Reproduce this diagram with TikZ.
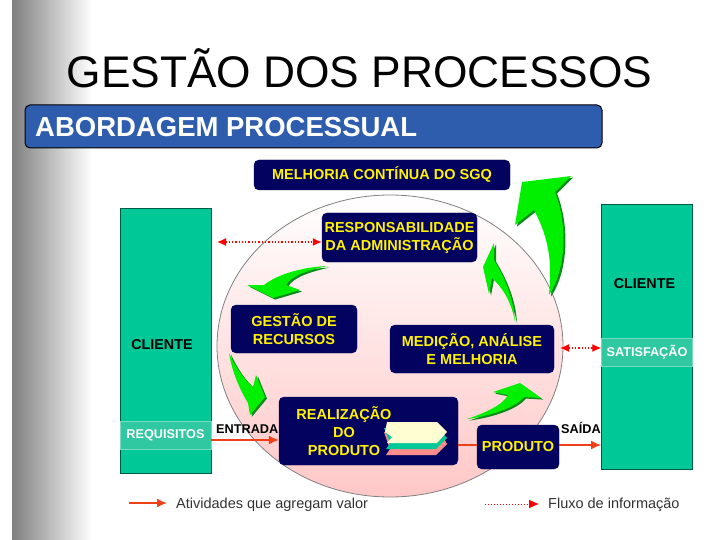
\documentclass[tikz,border=0pt]{standalone}
\usepackage{fontspec}
\setmainfont{Liberation Sans}
\usepackage{tikz}
\usetikzlibrary{arrows.meta}
\definecolor{navybox}{HTML}{03035F}
\definecolor{tealbox}{HTML}{00C896}
\definecolor{tealband}{HTML}{2FC8A0}
\definecolor{barblue}{HTML}{2F5DAE}
\definecolor{lime}{HTML}{00F000}
\definecolor{limedark}{HTML}{0B8A1E}
\definecolor{flowred}{HTML}{F0401A}
\tikzset{
  stepbox/.style={draw=navybox,fill=navybox,rounded corners=5pt,inner sep=0pt,
    text=yellow,font=\fontsize{14.5}{18}\selectfont\bfseries,align=center},
  clientbox/.style={draw=black!55!tealbox,fill=tealbox,line width=0.8pt,inner sep=0pt},
  clientlabel/.style={font=\fontsize{14.3}{16}\selectfont\bfseries,inner sep=0pt},
  bandbox/.style={draw=white!35!tealband,fill=tealband,line width=0.4pt,inner sep=0pt,
    text=white,font=\fontsize{12.7}{15}\selectfont\bfseries},
  infoflow/.style={red,line width=1.3pt,dotted,{Latex[length=9pt,width=8pt]}-{Latex[length=9pt,width=8pt]}},
  valueflow/.style={flowred,line width=1.6pt,-{Latex[length=10pt,width=9pt]}},
  greenarrow/.style={fill=lime,preaction={fill=limedark,transform canvas={shift={(2pt,-1.6pt)}}}},
  blacklabel/.style={font=\fontsize{12.7}{15}\selectfont\bfseries,inner sep=0pt},
  legendlabel/.style={font=\fontsize{14.5}{16}\selectfont,text=black!80,inner sep=0pt,anchor=west}
}
\begin{document}
\begin{tikzpicture}[x=1pt,y=-1pt]
  \useasboundingbox (0,0) rectangle (720,540);
  % page edge and title
  \fill[white] (0,0) rectangle (720,540);
  \shade[left color=black!50,right color=white] (12,0) rectangle (92,540);
  \node[font=\fontsize{44.3}{50}\selectfont,inner sep=0pt] (title) at (359.5,68) {GESTÃO DOS PROCESSOS};
  \node[draw=black,fill=barblue,line width=1pt,rounded corners=5pt,minimum width=577pt,minimum height=43pt,inner sep=0pt] (bar) at (313.5,126.5) {};
  \node[font=\fontsize{27.5}{30}\selectfont\bfseries,text=white,inner sep=0pt,anchor=west] (barlabel) at (35,127) {ABORDAGEM PROCESSUAL};
  % image panel
  \fill[white] (115,152) rectangle (700,525);
  % process circle
  \shade[top color=white,bottom color=red!22,draw=none] (390,346) ellipse (173pt and 151pt);
  \draw[black!50,line width=0.8pt] (390,346) ellipse (173pt and 151pt);
  % customers
  \node[clientbox,minimum width=91pt,minimum height=265pt] (clienteL) at (165.5,340.5) {};
  \node[clientbox,minimum width=91pt,minimum height=265pt] (clienteR) at (647,336.5) {};
  \node[clientlabel] (clienteLlabel) at (162,345) {CLIENTE};
  \node[clientlabel] (clienteRlabel) at (644.5,284) {CLIENTE};
  \node[bandbox,minimum width=91pt,minimum height=28pt] (requisitos) at (165.5,435) {REQUISITOS};
  \node[bandbox,minimum width=91pt,minimum height=28pt] (satisfacao) at (647,352) {SATISFAÇÃO};
  % process steps
  \node[stepbox,minimum width=256pt,minimum height=30pt] (melhoria) at (382,175) {MELHORIA CONTÍNUA DO SGQ};
  \node[stepbox,minimum width=155pt,minimum height=49pt] (responsabilidade) at (399.5,237.5) {RESPONSABILIDADE\\DA ADMINISTRAÇÃO};
  \node[stepbox,minimum width=126pt,minimum height=48pt] (recursos) at (294,329) {GESTÃO DE\\RECURSOS};
  \node[stepbox,minimum width=164pt,minimum height=48pt] (medicao) at (472,349) {MEDIÇÃO, ANÁLISE\\E MELHORIA};
  \node[stepbox,minimum width=179pt,minimum height=68pt] (realizacao) at (368.5,431) {};
  \node[stepbox,minimum width=82pt,minimum height=44pt] (produto) at (518,447) {PRODUTO};
  % stacked sheets inside the product step
  \fill[red!45!white] (384,432) -- (440,432) -- (447,444) -- (436,455) -- (386,455) -- (390,449) -- cycle;
  \fill[tealbox] (384,428) -- (437,428) -- (447,438) -- (436,449) -- (386,449) -- (390,443) -- cycle;
  \fill[yellow!18!white] (387,422) -- (437,422) -- (447,432) -- (437,443) -- (387,443) -- (392,437) -- (385,432) -- cycle;
  \node[font=\fontsize{14.5}{18}\selectfont\bfseries,text=yellow,align=center,inner sep=0pt] (realizacaolabel) at (344,431) {REALIZAÇÃO\\DO\\PRODUTO};
  % green arrows
  \fill[greenarrow] (549,295) .. controls (566,270) and (568,225) .. (555,192) -- (571,176) -- (522,182)
    -- (515,225) -- (534,210) .. controls (550,240) and (552,265) .. (549,295) -- cycle;
  \fill[greenarrow] (515,322) .. controls (514,300) and (506,280) .. (494,260) -- (494,243) -- (483,267) -- (489,294)
    -- (492,278) .. controls (505,290) and (512,305) .. (515,322) -- cycle;
  \fill[greenarrow] (327,266) .. controls (290,268) and (270,280) .. (264,285) -- (247,285) -- (273,298) -- (300,290)
    -- (286,285) .. controls (292,275) and (310,270) .. (327,266) -- cycle;
  \fill[greenarrow] (229,353) .. controls (232,372) and (240,390) .. (248,403) -- (250,415) -- (265,397) -- (256,375)
    -- (253,387) .. controls (244,380) and (235,366) .. (229,353) -- cycle;
  \fill[greenarrow] (467,419) .. controls (485,413) and (503,405) .. (508,395) -- (493,392) -- (520,383) -- (541,398)
    -- (524,397) .. controls (515,408) and (490,416) .. (467,419) -- cycle;
  % connectors
  \coordinate (infoL) at (217,242);
  \coordinate (infoR) at (560,348);
  \draw[infoflow] (infoL) -- (responsabilidade.west |- infoL);
  \draw[infoflow] (infoR) -- (satisfacao.west |- infoR);
  \draw[valueflow] (requisitos.east |- 0,440) -- (realizacao.west |- 0,440);
  \draw[flowred,line width=1.6pt] (realizacao.east |- 0,445) -- (produto.west |- 0,445);
  \draw[valueflow] (produto.east |- 0,445) -- (clienteR.west |- 0,445);
  \node[blacklabel,anchor=west] (entrada) at (216,429) {ENTRADA};
  \node[blacklabel,anchor=west] (saida) at (561,428) {SAÍDA};
  % legend
  \coordinate (legendA) at (129,503);
  \coordinate (legendB) at (167,503);
  \coordinate (legendC) at (485,504);
  \coordinate (legendD) at (539,504);
  \draw[valueflow] (legendA) -- (legendB);
  \draw[red,line width=1pt,dotted,-{Latex[length=10pt,width=9pt]}] (legendC) -- (legendD);
  \node[legendlabel] (valuelabel) at (176,505) {Atividades que agregam valor};
  \node[legendlabel] (infolabel) at (548,505) {Fluxo de informação};
\end{tikzpicture}
\end{document}
